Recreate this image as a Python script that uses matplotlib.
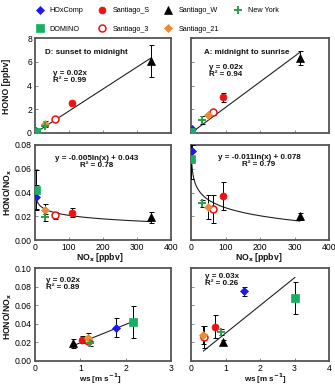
import numpy as np
import matplotlib
matplotlib.use("Agg")
import matplotlib.pyplot as plt
from matplotlib.lines import Line2D

plt.rcParams['font.family'] = ['Liberation Sans', 'DejaVu Sans']

# ---------------- data ----------------
sites = ['HOxComp', 'DOMINO', 'Santiago_S', 'Santiago_3', 'Santiago_W', 'Santiago_21', 'New York']

# D: sunset to midnight
nox_D = [3, 1.5, 110, 58, 340, 30, 30]
hono_D = [0.15, 0.05, 2.5, 1.2, 6.1, 0.8, 0.6]
hono_err_D = [0.05, 0.0, 0.15, 0.15, 1.35, 0.2, 0.1]
ratio_D = [0.036, 0.042, 0.023, 0.021, 0.019, 0.025, 0.019]
ratio_err_D = [0.010, 0.017, 0.004, 0.003, 0.005, 0.005, 0.003]
ws_D = [1.78, 2.17, 1.03, 1.16, 0.83, 1.18, 1.21]

# A: midnight to sunrise
nox_A = [2, 1, 94, 63, 315, 50, 32]
hono_A = [0.35, 0.1, 3.0, 1.73, 6.3, 1.5, 1.1]
hono_err_A = [0.05, 0.0, 0.4, 0.2, 0.6, 0.1, 0.3]
ratio_A = [0.075, 0.068, 0.037, 0.026, 0.020, 0.028, 0.031]
ratio_err_A = [0.005, 0.017, 0.012, 0.012, 0.003, 0.010, 0.003]
ws_A = [1.54, 3.01, 0.71, 0.38, 0.92, 0.36, 0.86]

eq_top = ['y = 0.02x\nR² = 0.99', 'y = 0.02x\nR² = 0.94']
eq_mid = ['y = -0.005ln(x) + 0.043\nR² = 0.78', 'y = -0.011ln(x) + 0.078\nR² = 0.79']
eq_bot = ['y = 0.02x\nR² = 0.89', 'y = 0.03x\nR² = 0.26']

# ---------------- styles ----------------
styles = {
    'HOxComp':     dict(marker='D', color='#1a1aee', mfc='#1a1aee', ms=4.0, mew=0.5),
    'DOMINO':      dict(marker='s', color='#18b060', mfc='#18b060', ms=5.5, mew=0.5),
    'Santiago_S':  dict(marker='o', color='#ee1111', mfc='#ee1111', ms=5.0, mew=0.5),
    'Santiago_3':  dict(marker='o', color='#ee1111', mfc='white', ms=5.0, mew=1.1),
    'Santiago_W':  dict(marker='^', color='black', mfc='black', ms=6.0, mew=0.5),
    'Santiago_21': dict(marker='D', color='#f08a30', mfc='#f08a30', ms=4.5, mew=0.5),
    'New York':    dict(marker='+', color='#2ca048', mfc='#2ca048', ms=6.0, mew=1.4),
}

W, H = 335, 386
fig = plt.figure(figsize=(W / 100, H / 100), dpi=100)


def px(x, y):
    return x / W, 1 - y / H


def make_ax(x0, x1, y0, y1):
    ax = fig.add_axes([x0 / W, 1 - y1 / H, (x1 - x0) / W, (y1 - y0) / H])
    for s in ax.spines.values():
        s.set_color('#555555')
        s.set_linewidth(1.3)
    ax.tick_params(direction='in', length=2, width=0.6, color='#777777',
                   labelsize=6.2, pad=2.2)
    return ax


cols = [(35, 171), (191, 329)]
rows = [(38, 133), (145, 240), (268, 361)]

axs = [[make_ax(c[0], c[1], r[0], r[1]) for c in cols] for r in rows]


def plot_points(ax, xs, ys, yerr):
    for i, s in enumerate(sites):
        st = styles[s]
        if yerr is not None and yerr[i] > 0:
            ax.errorbar(xs[i], ys[i], yerr=yerr[i], fmt='none', ecolor='black',
                        elinewidth=0.7, capsize=1.8, capthick=0.7, zorder=3)
        ax.plot(xs[i], ys[i], linestyle='none', marker=st['marker'], color=st['color'],
                mfc=st['mfc'], mec=st['color'], ms=st['ms'], mew=st['mew'], zorder=4)


def origin_fit(xs, ys):
    xs = np.asarray(xs, float)
    ys = np.asarray(ys, float)
    return np.sum(xs * ys) / np.sum(xs * xs)


# top row: HONO vs NOx
for j, (nox, hono, herr) in enumerate([(nox_D, hono_D, hono_err_D), (nox_A, hono_A, hono_err_A)]):
    ax = axs[0][j]
    k = origin_fit(nox, hono)
    xx = np.array([0, max(nox)])
    ax.plot(xx, k * xx, color='#222222', lw=0.8, zorder=2)
    plot_points(ax, nox, hono, herr)
    ax.set_xlim(0, 400)
    ax.set_ylim(0, 8)
    ax.set_xticks([0, 100, 200, 300, 400])
    ax.set_xticklabels([])
    ax.set_yticks([0, 2, 4, 6, 8])
    if j == 1:
        ax.set_yticklabels([])

# middle row: HONO/NOx vs NOx with log fit
for j, (nox, ratio, rerr) in enumerate([(nox_D, ratio_D, ratio_err_D), (nox_A, ratio_A, ratio_err_A)]):
    ax = axs[1][j]
    a, b = np.polyfit(np.log(nox), ratio, 1)
    xx = np.linspace(min(nox), max(nox), 300)
    ax.plot(xx, a * np.log(xx) + b, color='#222222', lw=0.8, zorder=2)
    plot_points(ax, nox, ratio, rerr)
    ax.set_xlim(0, 400)
    ax.set_ylim(0, 0.08)
    ax.set_xticks([0, 100, 200, 300, 400])
    ax.set_yticks([0, 0.02, 0.04, 0.06, 0.08])
    ax.yaxis.set_major_formatter(matplotlib.ticker.FormatStrFormatter('%.2f'))
    if j == 1:
        ax.set_yticklabels([])

# bottom row: HONO/NOx vs ws
for j, (ws, ratio, rerr, xmax) in enumerate([(ws_D, ratio_D, ratio_err_D, 3), (ws_A, ratio_A, ratio_err_A, 4)]):
    ax = axs[2][j]
    k = origin_fit(ws, ratio)
    xx = np.array([min(ws), max(ws)])
    ax.plot(xx, k * xx, color='#222222', lw=0.8, zorder=2)
    plot_points(ax, ws, ratio, rerr)
    ax.set_xlim(0, xmax)
    ax.set_ylim(0, 0.10)
    ax.set_xticks(list(range(0, xmax + 1)))
    ax.set_yticks([0, 0.02, 0.04, 0.06, 0.08, 0.10])
    ax.yaxis.set_major_formatter(matplotlib.ticker.FormatStrFormatter('%.2f'))
    if j == 1:
        ax.set_yticklabels([])

# texts
bold = dict(fontsize=5.8, fontweight='bold', color='#111111')
fig.text(*px(45, 52), 'D: sunset to midnight', ha='left', va='center', **bold)
fig.text(*px(204, 52), 'A: midnight to sunrise', ha='left', va='center', **bold)
fig.text(*px(70, 77), eq_top[0], ha='center', va='center', linespacing=1.1, **bold)
fig.text(*px(226, 71), eq_top[1], ha='center', va='center', linespacing=1.1, **bold)
fig.text(*px(97, 162), eq_mid[0], ha='center', va='center', linespacing=1.1, multialignment='center', **bold)
fig.text(*px(259, 161), eq_mid[1], ha='center', va='center', linespacing=1.1, multialignment='center', **bold)
fig.text(*px(46, 284), eq_bot[0], ha='left', va='center', linespacing=1.1, **bold)
fig.text(*px(205, 280), eq_bot[1], ha='left', va='center', linespacing=1.1, **bold)

lab = dict(fontsize=6.2, fontweight='bold', color='#111111')
fig.text(*px(7, 86), 'HONO [ppbv]', rotation=90, ha='center', va='center', **lab)
fig.text(*px(8, 192), 'HONO/NO$_\\mathbf{x}$', rotation=90, ha='center', va='center', **lab)
fig.text(*px(8, 316), 'HONO/NO$_\\mathbf{x}$', rotation=90, ha='center', va='center', **lab)
fig.text(*px(100, 258), 'NO$_\\mathbf{x}$ [ppbv]', ha='center', va='center', **lab)
fig.text(*px(259, 258), 'NO$_\\mathbf{x}$ [ppbv]', ha='center', va='center', **lab)
ws_lab = dict(fontsize=5.8, fontweight='bold', color='#111111')
fig.text(*px(100, 379), 'ws [m s$^{\\mathbf{-1}}$]', ha='center', va='center', **ws_lab)
fig.text(*px(265, 379), 'ws [m s$^{\\mathbf{-1}}$]', ha='center', va='center', **ws_lab)

# legend
order = ['HOxComp', 'DOMINO', 'Santiago_S', 'Santiago_3', 'Santiago_W', 'Santiago_21', 'New York']
handles = []
for s in order:
    st = styles[s]
    handles.append(Line2D([], [], linestyle='none', marker=st['marker'], color=st['color'],
                          mfc=st['mfc'], mec=st['color'], ms=st['ms'], mew=st['mew']))
fig.legend(handles, order, ncol=4, loc='upper left', bbox_to_anchor=px(28, 0),
           frameon=False, fontsize=5.2, handlelength=1.2, handletextpad=0.8,
           columnspacing=2.0, labelspacing=1.6, borderpad=0.5)

fig.savefig('out.png', dpi=100)
